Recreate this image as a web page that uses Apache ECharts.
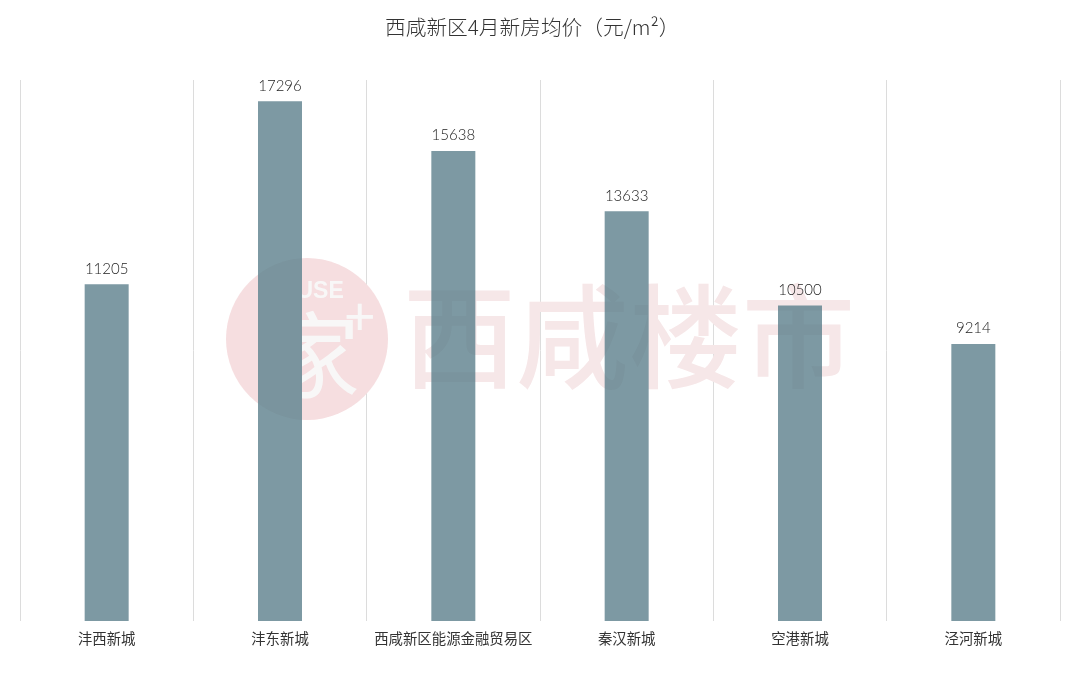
<!DOCTYPE html>
<html><head><meta charset="utf-8">
<style>html,body{margin:0;padding:0;background:#fff}#c{width:1080px;height:679px}</style>
<script src="https://cdn.jsdelivr.net/npm/echarts@6/dist/echarts.min.js"></script>
</head><body><div id="c"></div>
<script>
const titleText = '西咸新区4月新房均价（元/m²）';
const categories = ['沣西新城','沣东新城','西咸新区能源金融贸易区','秦汉新城','空港新城','泾河新城'];
const prices = [11205,17296,15638,13633,10500,9214];
const yMax = 18000;
const watermarkName = '西咸楼市';
const cjk = '"Noto Sans CJK SC","Noto Sans",sans-serif';
const overlay = 'rgba(70,20,40,0.035)';
const wmFont = '500 113px ' + cjk;
function mark(){
  return [
    {type:'circle',z:1,shape:{cx:307,cy:339,r:81},style:{fill:'#fde6e8'}},
    {type:'text',z:1,x:262,y:280,style:{text:'HOUSE',fill:'#fff',font:'bold 23px "Liberation Sans"'}},
    {type:'text',z:1,x:266,y:308,style:{text:'家',fill:'#fff',font:'400 94px '+cjk}},
    {type:'text',z:1,x:344,y:293,style:{text:'+',fill:'#fff',font:'54px "Liberation Sans"'}},
    {type:'text',z:1,x:403,y:280,style:{text:watermarkName,fill:'#fdeff0',font:wmFont}},
    {type:'circle',z:20,silent:true,shape:{cx:307,cy:339,r:81},style:{fill:overlay}},
    {type:'text',z:20,silent:true,x:403,y:280,style:{text:watermarkName,fill:overlay,font:wmFont}}
  ];
}
const chart = echarts.init(document.getElementById('c'),null,{renderer:'canvas'});
chart.setOption({
  animation:false,
  backgroundColor:'#fff',
  title:{text:titleText,left:380,top:12,textStyle:{fontFamily:cjk,fontSize:20.7,fontWeight:300,color:'#333'}},
  grid:{left:20,right:20,top:80,bottom:58},
  xAxis:{type:'category',data:categories,axisLine:{show:false},axisTick:{show:false},
    splitLine:{show:true,lineStyle:{color:'#dcdcdc',width:1}},
    axisLabel:{interval:0,margin:10,fontFamily:cjk,fontSize:14.4,color:'#333'}},
  yAxis:{type:'value',min:0,max:yMax,show:false,splitLine:{show:false}},
  graphic:mark(),
  series:[{type:'bar',data:prices,barWidth:44,z:5,itemStyle:{color:'#7d99a3'},
    label:{show:true,position:'top',distance:8,fontFamily:'Lato,"Open Sans",sans-serif',fontWeight:300,fontSize:15,color:'#222'}}]
});
</script></body></html>
